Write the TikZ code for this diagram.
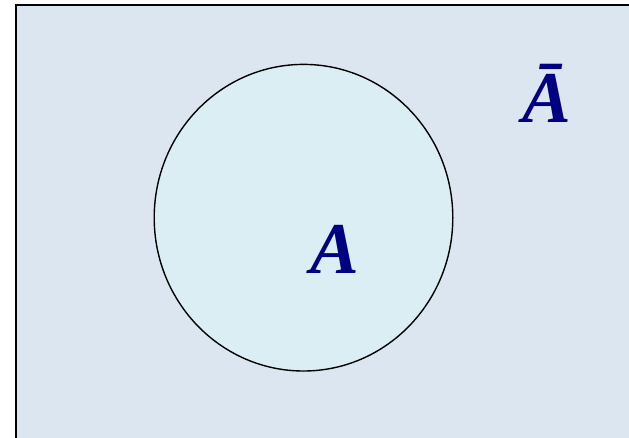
\documentclass[tikz,border=0pt]{standalone}
\usepackage{fontspec}
\setmainfont{Liberation Serif}
\definecolor{outerfill}{HTML}{DCE6F1}
\definecolor{innerfill}{HTML}{DAEEF3}
\definecolor{setlabel}{HTML}{000080}
\begin{document}
\begin{tikzpicture}[x=1pt,y=-1pt,
    setname/.style={text=setlabel,font=\fontsize{73}{73}\selectfont\bfseries\itshape,inner sep=0pt,anchor=base}]
    \useasboundingbox (0,0) rectangle (629,438);
    \draw[line width=2pt,fill=outerfill] (16,5) rectangle (640,450);
    \draw[line width=1.4pt,fill=innerfill] (303.5,217.7) ellipse [x radius=149.3, y radius=153.3];
    \node[setname] (a) at (334.5,273.5) {A};
    \node[setname] (abar) at (547,122.5) {Ā};
\end{tikzpicture}
\end{document}
